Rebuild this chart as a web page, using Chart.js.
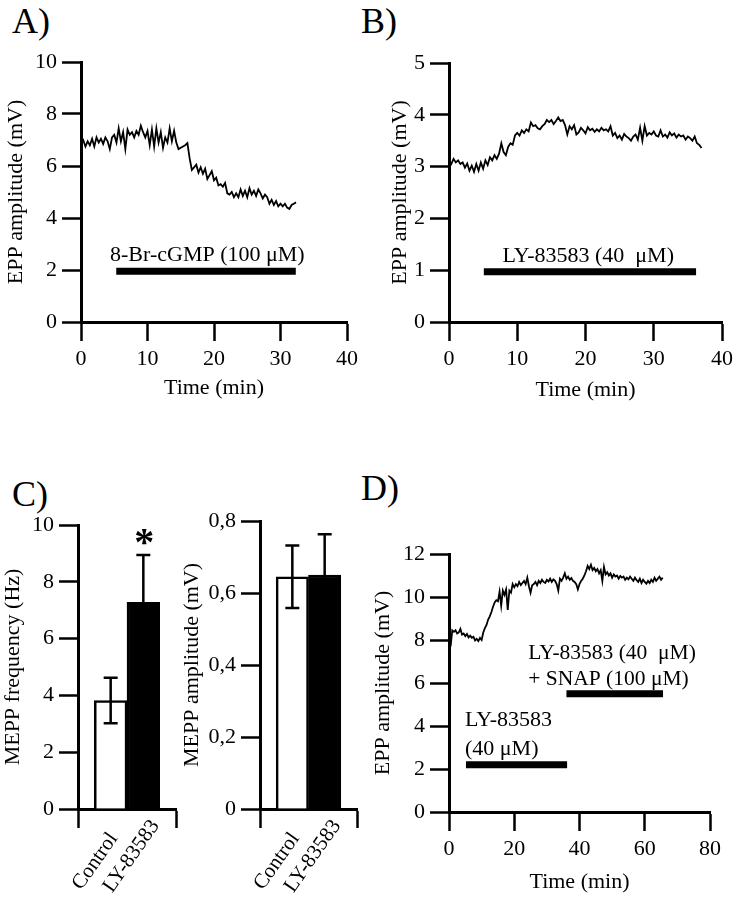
<!DOCTYPE html>
<html>
<head>
<meta charset="utf-8">
<script src="https://cdn.jsdelivr.net/npm/chart.js@4.4.0/dist/chart.umd.min.js"></script>
<style>
  html, body { margin: 0; padding: 0; background: #fff; }
  #fig { position: relative; width: 738px; height: 899px; overflow: hidden; background: #fff; }
  #fig canvas { position: absolute; }
  .lbl { position: absolute; font: 36px/36px "Liberation Serif", serif; color: #000; }
</style>
</head>
<body>
<div id="fig">
  <div class="lbl" style="left:12px;top:3px">A)</div>
  <div class="lbl" style="left:361px;top:3px">B)</div>
  <div class="lbl" style="left:12px;top:476px">C)</div>
  <div class="lbl" style="left:361px;top:470px">D)</div>
  <canvas id="chartA" width="370" height="420" style="left:0;top:0"></canvas>
  <canvas id="chartB" width="368" height="420" style="left:370px;top:0"></canvas>
  <canvas id="chartC1" width="190" height="459" style="left:0;top:440px"></canvas>
  <canvas id="chartC2" width="195" height="459" style="left:175px;top:440px"></canvas>
  <canvas id="chartD" width="368" height="459" style="left:370px;top:440px"></canvas>
</div>
<script>
// EPP amplitude traces (mV), sampled every stepX minutes
const stepA = 1 / 3;
const eppA = [
  6.9, 7.0, 6.75, 6.95, 6.8, 7.05, 6.75, 7.1, 6.9, 7.05, 6.85, 7.1,
  6.95, 6.65, 7.1, 7.2, 6.9, 7.45, 6.95, 7.3, 6.65, 7.4, 7.2, 7.3,
  7.1, 7.35, 7.2, 7.55, 7.3, 7.1, 7.35, 6.8, 7.4, 6.75, 7.45, 6.9,
  7.3, 6.7, 7.1, 6.9, 7.45, 6.95, 7.35, 6.9, 6.65, 6.7, 6.75, 6.8,
  6.88, 6.3, 5.85, 5.95, 6.05, 5.75, 5.95, 5.7, 5.9, 5.5, 5.65, 5.8,
  5.45, 5.55, 5.25, 5.3, 5.2, 5.35, 4.95, 4.9, 5.0, 4.8, 4.95, 4.8,
  5.1, 4.85, 5.05, 4.8, 5.15, 4.9, 5.05, 4.85, 5.1, 4.95, 4.75, 4.9,
  4.8, 4.55, 4.7, 4.5, 4.65, 4.45, 4.55, 4.45, 4.55, 4.4, 4.35, 4.5,
  4.55, 4.6
];

const stepB = 1 / 3;
const eppB = [
  3.1, 3.05, 3.15, 3.08, 3.12, 3.05, 3.08, 2.98, 3.06, 2.92, 3.02, 2.9,
  3.05, 2.92, 3.08, 2.96, 3.12, 3.03, 3.18, 3.12, 3.22, 3.15, 3.25, 3.45,
  3.28, 3.22, 3.38, 3.45, 3.42, 3.6, 3.65, 3.6, 3.7, 3.65, 3.72, 3.68,
  3.85, 3.78, 3.8, 3.74, 3.72, 3.78, 3.82, 3.9, 3.86, 3.9, 3.82, 3.88,
  3.95, 3.88, 3.9, 3.8, 3.62, 3.78, 3.72, 3.8, 3.62, 3.66, 3.75, 3.7,
  3.64, 3.76, 3.7, 3.73, 3.67, 3.72, 3.68, 3.75, 3.7, 3.72, 3.68, 3.78,
  3.6, 3.65, 3.55, 3.6, 3.52, 3.63, 3.58, 3.55, 3.5, 3.58, 3.62, 3.52,
  3.75, 3.5, 3.78, 3.6, 3.65, 3.62, 3.68, 3.6, 3.58, 3.7, 3.58, 3.62,
  3.56, 3.66, 3.6, 3.64, 3.56, 3.62, 3.58, 3.6, 3.52, 3.58, 3.55, 3.5,
  3.58, 3.45, 3.42, 3.36
];

const stepD = 0.5;
const eppD = [
  8.5, 7.7, 8.45, 8.38, 8.45, 8.3, 8.35, 8.52, 8.25, 8.3, 8.18, 8.28,
  8.12, 8.2, 8.1, 8.15, 7.98, 8.05, 7.95, 8.1, 8.0, 8.35, 8.55, 8.7,
  8.95, 9.1, 9.3, 9.55, 9.75, 9.85, 9.8, 10.25, 9.6, 10.3, 10.1, 10.35,
  9.4, 10.3, 10.2, 10.6, 10.45, 10.6, 10.5, 10.7, 10.55, 10.65, 10.75, 10.6,
  10.9, 10.5, 10.2, 10.55, 10.6, 10.7, 10.55, 10.75, 10.65, 10.8, 10.7, 10.65,
  10.8, 10.72, 10.85, 10.7, 10.82, 10.75, 10.6, 10.3, 10.85, 10.75, 10.9, 11.1,
  10.85, 10.95, 10.8, 10.88, 10.75, 10.7, 10.6, 10.35, 10.6, 10.75, 10.85, 11.0,
  11.2, 11.45, 11.3, 11.5, 11.25, 11.35, 11.2, 11.3, 11.1, 11.25, 10.75, 11.4,
  11.05, 11.15, 11.0, 11.1, 10.9, 11.05, 10.95, 11.0, 10.85, 10.98, 10.9, 10.95,
  10.8, 10.9, 10.82, 10.95, 10.85, 10.75, 10.9, 10.78, 10.7, 10.85, 10.65, 10.8,
  10.7, 10.62, 10.75, 10.65, 10.8, 10.7, 10.9, 10.75, 10.85, 10.95, 10.8, 10.9
];

// drug application bars: [from (min), to (min), level (mV)]
const drugBarsA = [[5.3, 32.3, 1.95]];
const drugBarsB = [[5.1, 36.2, 0.97]];
const drugBarsD = [[5.2, 36.2, 2.2], [36.0, 65.6, 5.5]];

// panel C bar groups
const groups = ['Control', 'LY-83583'];
const freqMean = [3.82, 7.28];
const freqErr = [0.8, 1.66];
const ampMean = [0.645, 0.65];
const ampErr = [0.087, 0.113];

const serif = '"Liberation Serif", "Times New Roman", serif';
Chart.defaults.font.family = serif;
Chart.defaults.font.size = 22;
Chart.defaults.color = '#000';

const toPoints = (vals, step) => vals.map((v, i) => ({ x: i * step, y: v }));

// rotated group labels start at the same baseline in the original,
// so the shorter one gets trailing spaces up to the longest width
const measureCtx = document.createElement('canvas').getContext('2d');
function padLabel(label) {
  measureCtx.font = '21px ' + serif;
  const longest = Math.max(...groups.map(g => measureCtx.measureText(g).width));
  let s = label;
  while (measureCtx.measureText(s + ' ').width <= longest + 2) s += ' ';
  return s;
}

// text notes drawn in data coordinates
const panelText = {
  id: 'panelText',
  afterDatasetsDraw(chart, args, opts) {
    const { ctx, scales: { x, y } } = chart;
    (opts.items || []).forEach(it => {
      ctx.save();
      ctx.font = it.font || '22px ' + serif;
      ctx.fillStyle = '#000';
      ctx.textAlign = it.align || 'center';
      ctx.textBaseline = 'middle';
      ctx.fillText(it.text, x.getPixelForValue(it.x), y.getPixelForValue(it.y));
      ctx.restore();
    });
  }
};

// mean +/- error bars on the bar datasets
const errorBars = {
  id: 'errorBars',
  afterDatasetsDraw(chart, args, opts) {
    if (!opts.errors) return;
    const { ctx } = chart;
    const y = chart.scales.y;
    const meta = chart.getDatasetMeta(0);
    const vals = chart.data.datasets[0].data;
    ctx.save();
    ctx.strokeStyle = '#000';
    ctx.lineWidth = 2.5;
    meta.data.forEach((bar, i) => {
      const e = opts.errors[i];
      if (e == null || vals[i] == null) return;
      const top = y.getPixelForValue(vals[i] + e);
      const bot = y.getPixelForValue(vals[i] - e);
      const w = opts.cap / 2;
      ctx.beginPath();
      ctx.moveTo(bar.x, top); ctx.lineTo(bar.x, bot);
      ctx.moveTo(bar.x - w, top); ctx.lineTo(bar.x + w, top);
      ctx.moveTo(bar.x - w, bot); ctx.lineTo(bar.x + w, bot);
      ctx.stroke();
    });
    ctx.restore();
  }
};

function makeAxis(o) {
  return {
    type: o.type || 'linear',
    min: o.min,
    max: o.max,
    offset: false,
    border: { color: '#000', width: 3 },
    grid: {
      drawOnChartArea: false,
      offset: false,
      tickLength: 19,
      tickWidth: 2.5,
      tickColor: o.tickColor || '#000'
    },
    ticks: Object.assign({
      color: '#000',
      padding: o.tickPad != null ? o.tickPad : 5,
      labelOffset: o.labelOffset || 0,
      stepSize: o.step,
      autoSkip: false,
      minRotation: o.rot || 0,
      maxRotation: o.rot || 0,
      font: { size: o.tickSize || 22 }
    }, o.callback ? { callback: o.callback } : {}),
    title: {
      display: !!o.title,
      text: o.title,
      color: '#000',
      font: { size: 22 },
      padding: o.titlePad
    },
    afterFit: s => {
      if (o.width) s.width = o.width;
      if (o.height) s.height = o.height;
    }
  };
}

const baseOptions = {
  responsive: false,
  animation: false,
  events: [],
  plugins: { legend: { display: false }, tooltip: { enabled: false } }
};

function traceChart(id, o) {
  const datasets = [{
    data: toPoints(o.values, o.step),
    borderColor: '#000',
    borderWidth: 1.8,
    pointRadius: 0,
    tension: 0
  }];
  o.drugs.forEach(d => datasets.push({
    data: [{ x: d[0], y: d[2] }, { x: d[1], y: d[2] }],
    borderColor: '#000',
    borderWidth: 7,
    borderCapStyle: 'butt',
    pointRadius: 0
  }));
  return new Chart(document.getElementById(id), {
    type: 'line',
    data: { datasets },
    plugins: [panelText],
    options: Object.assign({}, baseOptions, {
      layout: { padding: o.padding },
      plugins: Object.assign({}, baseOptions.plugins, { panelText: { items: o.notes } }),
      scales: {
        x: makeAxis(o.x),
        y: makeAxis(o.y)
      }
    })
  });
}

function barChart(id, o) {
  const labels = [''].concat(groups, ['']);
  return new Chart(document.getElementById(id), {
    type: 'bar',
    data: {
      labels,
      datasets: [{
        data: [null].concat(o.means, [null]),
        backgroundColor: ['#fff', '#fff', '#000', '#fff'],
        borderColor: '#000',
        borderWidth: 2.5,
        borderSkipped: 'start',
        categoryPercentage: 1,
        barPercentage: 1
      }]
    },
    plugins: [errorBars, panelText],
    options: Object.assign({}, baseOptions, {
      layout: { padding: o.padding },
      plugins: Object.assign({}, baseOptions.plugins, {
        errorBars: { errors: [null].concat(o.errors, [null]), cap: 14 },
        panelText: { items: o.notes || [] }
      }),
      scales: {
        x: makeAxis({
          type: 'category', rot: 55, height: 90, tickPad: -13, labelOffset: 12, tickSize: 21,
          tickColor: c => (c.index === 0 || c.index === labels.length - 1) ? '#000' : 'rgba(0,0,0,0)',
          callback: function (v) {
            const l = this.getLabelForValue(v);
            return l ? padLabel(l) : '';
          }
        }),
        y: makeAxis(o.y)
      }
    })
  });
}

traceChart('chartA', {
  values: eppA, step: stepA, drugs: drugBarsA,
  padding: { left: 0, top: 62, right: 23, bottom: 0 },
  notes: [{ text: '8-Br-cGMP (100 μM)', x: 19, y: 2.55 }],
  x: { min: 0, max: 40, step: 10, height: 98, title: 'Time (min)', titlePad: { top: 0, bottom: 18.8 } },
  y: { min: 0, max: 10, step: 2, width: 81, title: 'EPP amplitude (mV)', titlePad: { top: 3.5, bottom: 0 } }
});

traceChart('chartB', {
  values: eppB, step: stepB, drugs: drugBarsB,
  padding: { left: 0, top: 63, right: 12, bottom: 0 },
  notes: [{ text: 'LY-83583 (40  μM)', x: 20.4, y: 1.27 }],
  x: { min: 0, max: 40, step: 10, height: 98, title: 'Time (min)', titlePad: { top: 0, bottom: 16.8 } },
  y: { min: 0, max: 5, step: 1, width: 79, title: 'EPP amplitude (mV)', titlePad: { top: 17.5, bottom: 0 } }
});

barChart('chartC1', {
  means: freqMean, errors: freqErr,
  padding: { left: 0, top: 85, right: 14, bottom: 0 },
  notes: [{ text: '*', x: 2.03, y: 9.3, font: 'bold 40px ' + serif }],
  y: { min: 0, max: 10, step: 2, width: 78, title: 'MEPP frequency (Hz)', titlePad: { top: 0, bottom: 0 } }
});

barChart('chartC2', {
  means: ampMean, errors: ampErr,
  padding: { left: 0, top: 81, right: 13, bottom: 0 },
  y: {
    min: 0, max: 0.8, step: 0.2, width: 85, title: 'MEPP amplitude (mV)', titlePad: { top: 3.8, bottom: 0 },
    callback: v => v === 0 ? '0' : v.toFixed(1).replace('.', ',')
  }
});

traceChart('chartD', {
  values: eppD, step: stepD, drugs: drugBarsD,
  padding: { left: 0, top: 114, right: 28, bottom: 0 },
  notes: [
    { text: 'LY-83583', x: 4.9, y: 4.25, align: 'left' },
    { text: '(40 μM)', x: 4.9, y: 2.9, align: 'left' },
    { text: 'LY-83583 (40  μM)', x: 24.3, y: 7.4, align: 'left', font: '21.5px ' + serif },
    { text: '+ SNAP (100 μM)', x: 24.3, y: 6.15, align: 'left', font: '21.5px ' + serif }
  ],
  x: { min: 0, max: 80, step: 20, height: 87, title: 'Time (min)', titlePad: { top: 0, bottom: 3.8 } },
  y: { min: 0, max: 12, step: 2, width: 79, title: 'EPP amplitude (mV)', titlePad: { top: 0, bottom: 0 } }
});
</script>
</body>
</html>
